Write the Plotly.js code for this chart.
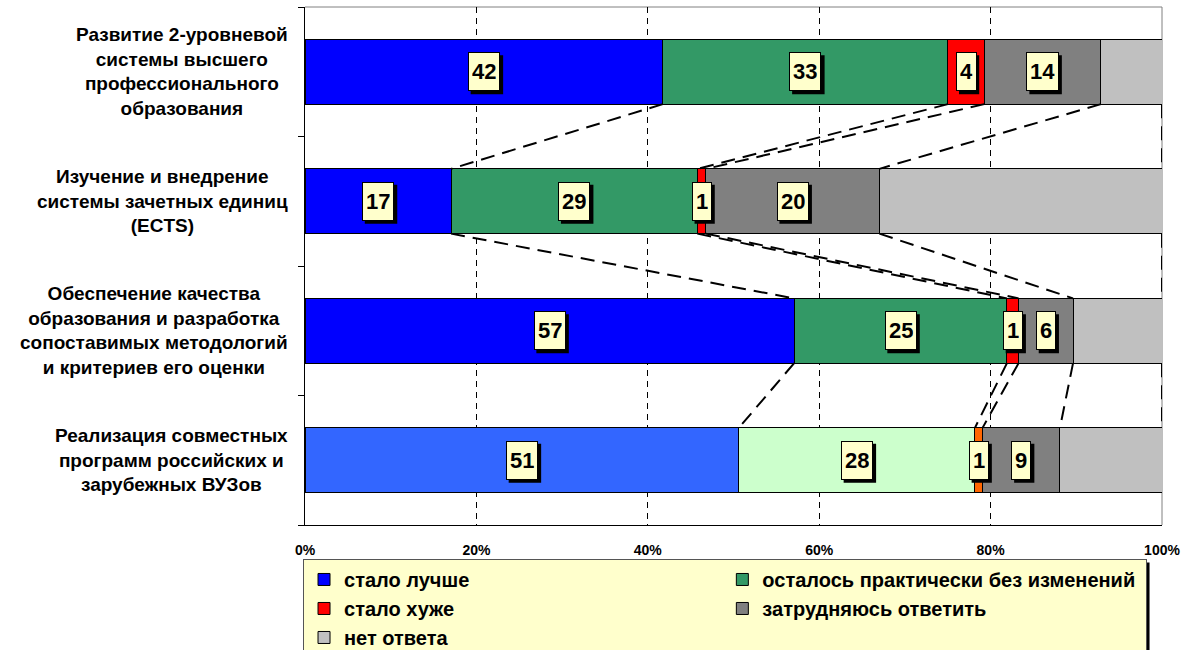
<!DOCTYPE html>
<html><head><meta charset="utf-8">
<script src="https://cdn.plot.ly/plotly-3.0.1.min.js"></script>
<style>html,body{margin:0;padding:0;background:#fff}#chart{width:1188px;height:650px}</style>
</head><body><div id="chart"></div>
<script>
// ---- data ----
const categories = [
  'Развитие 2-уровневой<br>системы высшего<br>профессионального<br>образования',
  'Изучение и внедрение<br>системы зачетных единиц<br>(ECTS)',
  'Обеспечение качества<br>образования и разработка<br>сопоставимых методологий<br>и критериев его оценки',
  'Реализация совместных<br>программ российских и<br>зарубежных ВУЗов'
];
const seriesNames = ['стало лучше', 'осталось практически без изменений', 'стало хуже', 'затрудняюсь ответить', 'нет ответа'];
const better   = [41.75, 17.04, 57.08, 50.62];
const same     = [33.27, 28.74, 24.83, 27.55];
const worse    = [4.24, 1.01, 1.36, 0.89];
const hard     = [13.62, 20.23, 6.35, 9.03];
const noAnswer = [7.12, 32.98, 10.38, 11.91];
const labelled = [true, true, true, true, false];
const xTickVals = [0, 20, 40, 60, 80, 100];
const xTickText = ['0%', '20%', '40%', '60%', '80%', '100%'];
const seriesColors  = ['#0000FF', '#339966', '#FF0000', '#808080', '#C0C0C0'];
const lastRowColors = ['#3366FF', '#CCFFCC', '#FF6600', '#808080', '#C0C0C0'];

const seriesValues = [better, same, worse, hard, noAnswer];
const FONT = 'Liberation Sans, Arial, Helvetica, sans-serif';
const rows = categories.map((c, i) => i);
const bold = t => '<b>' + t.split('<br>').join('</b><br><b>') + '</b>';

// text width measurement for label-box shadows
const ctx = document.createElement('canvas').getContext('2d');
ctx.font = 'bold 22px "Liberation Sans", Arial, sans-serif';
const LABEL_H = 31, LABEL_PAD = 3, LABEL_BW = 1, SH = 3;

// cumulative ends
const cumEnd = seriesValues.map((vals, s) => rows.map(r => {
  let t = 0; for (let k = 0; k <= s; k++) t += seriesValues[k][r]; return t;
}));

const traces = seriesNames.map((name, s) => ({
  type: 'bar', orientation: 'h', name: bold(name),
  x: seriesValues[s], y: rows, width: 0.5,
  marker: { color: rows.map(r => r === rows.length - 1 ? lastRowColors[s] : seriesColors[s]),
            line: { color: '#000', width: 1 } },
  hoverinfo: 'skip'
}));

// series lines between consecutive bars
const slx = [], sly = [];
for (let r = 0; r < rows.length - 1; r++) {
  for (let s = 0; s < seriesValues.length; s++) {
    slx.push(cumEnd[s][r], cumEnd[s][r + 1], null);
    sly.push(r + 0.25, r + 0.75, null);
  }
}
traces.push({
  type: 'scatter', mode: 'lines', x: slx, y: sly, showlegend: false, hoverinfo: 'skip',
  cliponaxis: false, connectgaps: false,
  line: { color: '#000', width: 2, dash: '14px,8px' }
});

const shapes = [
  { type: 'line', xref: 'paper', yref: 'paper', x0: 0, x1: 1, y0: 1, y1: 1, line: { color: '#808080', width: 1 }, layer: 'below' },
  { type: 'line', xref: 'paper', yref: 'paper', x0: 1, x1: 1, y0: 0, y1: 1, line: { color: '#808080', width: 1 }, layer: 'below' }
];
const annotations = [];
// category labels
categories.forEach((c, i) => {
  annotations.push({
    xref: 'paper', yref: 'y', x: 0, y: i, xanchor: 'right', yanchor: 'middle', xshift: -15,
    text: bold(c), showarrow: false, align: 'center',
    font: { family: FONT, size: 19, color: '#000' }
  });
});
// data labels with box shadows
seriesValues.forEach((vals, s) => {
  if (!labelled[s]) return;
  vals.forEach((v, r) => {
    const xc = cumEnd[s][r] - v / 2;
    const txt = String(Math.round(v));
    const w = ctx.measureText(txt).width + 2 * (LABEL_PAD + LABEL_BW);
    const h = LABEL_H + 2 * (LABEL_PAD + LABEL_BW);
    shapes.push({
      type: 'rect', layer: 'above', xref: 'x', yref: 'y',
      xsizemode: 'pixel', ysizemode: 'pixel', xanchor: xc, yanchor: r,
      x0: -w / 2 + SH, x1: w / 2 + SH, y0: -h / 2 - SH, y1: h / 2 - SH,
      fillcolor: '#000', line: { width: 0 }
    });
    annotations.push({
      xref: 'x', yref: 'y', x: xc, y: r, showarrow: false,
      text: bold(txt),
      height: LABEL_H, borderpad: LABEL_PAD, borderwidth: LABEL_BW, valign: 'middle',
      bgcolor: '#FFFFCC', bordercolor: '#000',
      font: { family: FONT, size: 22, color: '#000' }
    });
  });
});

const layout = {
  width: 1188, height: 650,
  margin: { l: 305, r: 26, t: 7, b: 125, autoexpand: false },
  paper_bgcolor: '#fff', plot_bgcolor: '#fff',
  barmode: 'stack',
  showlegend: true,
  legend: {
    orientation: 'h', x: -0.0023, xanchor: 'left', y: -0.0656, yanchor: 'top',
    bgcolor: '#FFFFCC', bordercolor: '#555', borderwidth: 1,
    entrywidth: 0.36, entrywidthmode: 'fraction', traceorder: 'normal',
    font: { family: FONT, size: 20, color: '#000' }
  },
  xaxis: {
    range: [0, 100], tickvals: xTickVals, ticktext: xTickText.map(bold),
    showgrid: true, gridcolor: '#000', gridwidth: 1, griddash: '6px,5px',
    showline: true, linecolor: '#000', linewidth: 1, zeroline: false, ticks: '',
    tickfont: { family: FONT, size: 14, color: '#000' },
    ticklabelstandoff: 12, fixedrange: true
  },
  yaxis: {
    range: [rows.length - 0.5, -0.5],
    tickvals: [-0.5, 0.5, 1.5, 2.5, 3.5], ticks: 'outside', ticklen: 6, tickcolor: '#000',
    showticklabels: false, showgrid: false, zeroline: false,
    showline: true, linecolor: '#000', linewidth: 1, fixedrange: true
  },
  shapes: shapes,
  annotations: annotations
};

const gd = document.getElementById('chart');
Plotly.newPlot(gd, traces, layout, { displayModeBar: false, staticPlot: true }).then(() => {
  const lbg = gd.querySelector('.legend .bg');
  if (!lbg) return;
  const rb = lbg.getBoundingClientRect();
  const gb = gd.getBoundingClientRect();
  const sz = gd._fullLayout._size;
  const toX = px => (px - gb.left - sz.l) / sz.w;
  const toY = py => 1 - (py - gb.top - sz.t) / sz.h;
  const all = shapes.slice();
  all.push({
    type: 'rect', xref: 'paper', yref: 'paper', layer: 'above',
    x0: toX(rb.left + 3), x1: toX(rb.right + 3), y0: toY(rb.bottom + 3), y1: toY(rb.top + 3),
    fillcolor: '#000', line: { width: 0 }
  });
  return Plotly.relayout(gd, { shapes: all });
});
</script>
</body></html>
